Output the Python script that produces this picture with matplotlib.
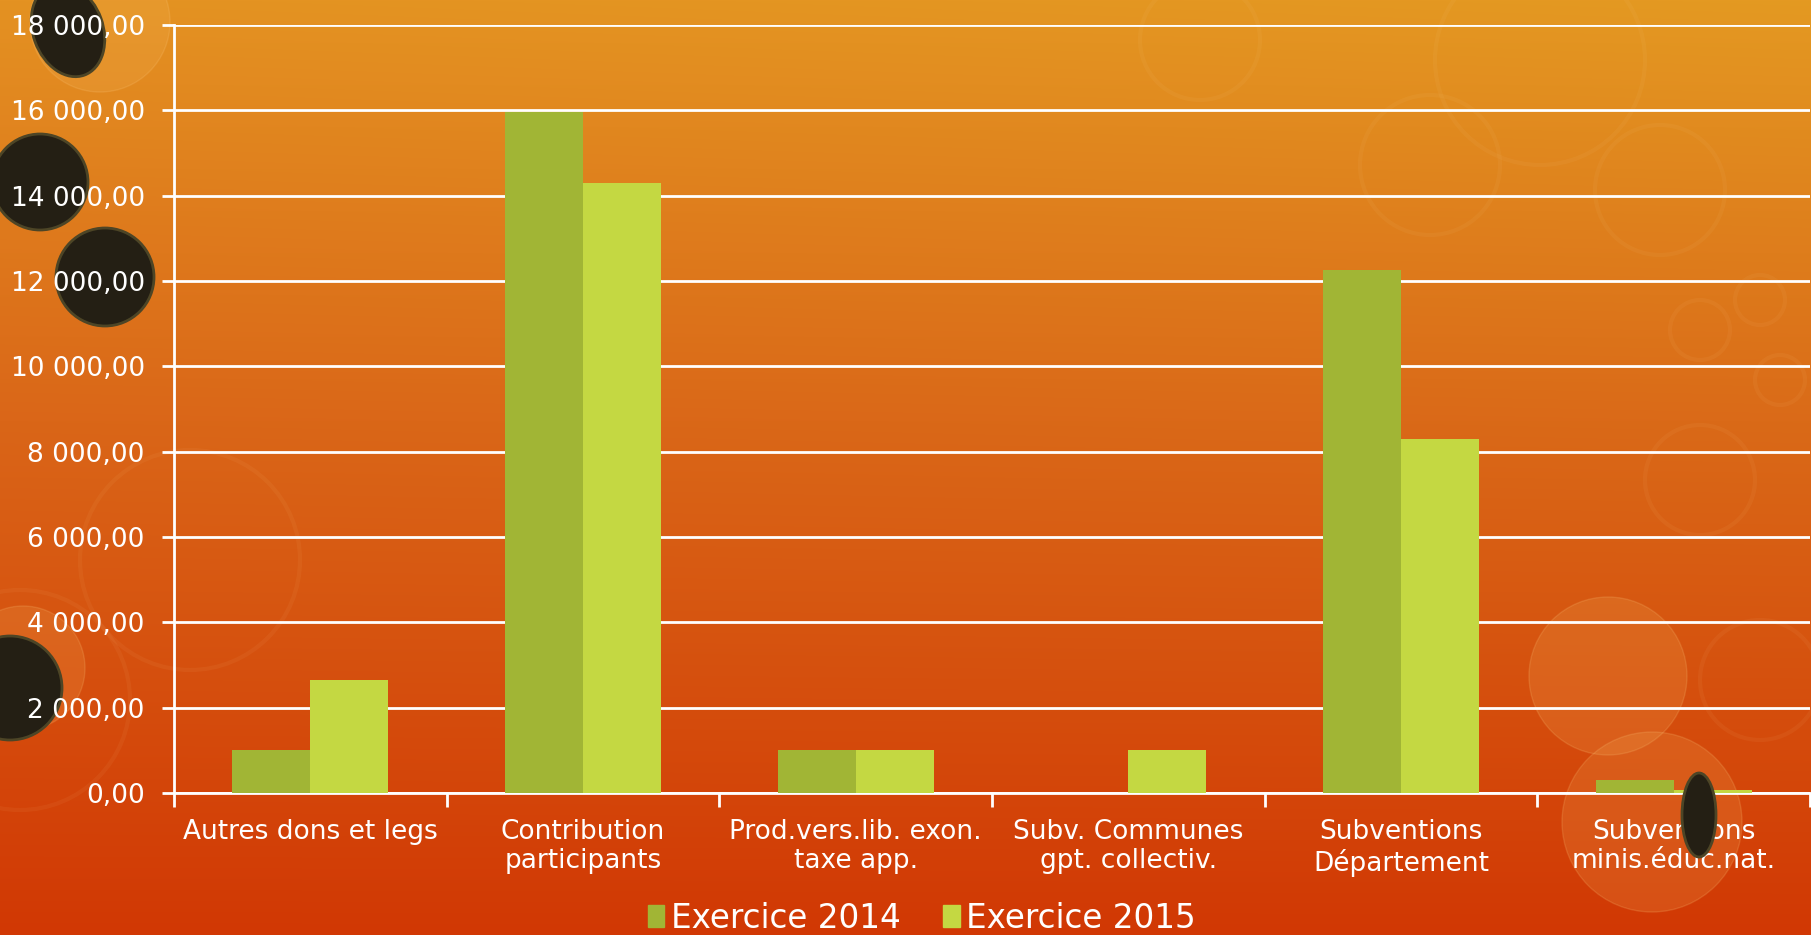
import numpy as np
import matplotlib
matplotlib.use("Agg")
import matplotlib.pyplot as plt
from matplotlib.patches import Circle, Ellipse, Patch
from matplotlib.ticker import FuncFormatter, FixedLocator

categories = ["Autres dons et legs", "Contribution\nparticipants", "Prod.vers.lib. exon.\ntaxe app.",
              "Subv. Communes\ngpt. collectiv.", "Subventions\nDépartement", "Subventions\nminis.éduc.nat."]
series_names = ["Exercice 2014", "Exercice 2015"]
values_2014 = [1000, 15950, 1000, 0, 12250, 300]
values_2015 = [2650, 14290, 1000, 1000, 8300, 60]
y_ticks = [0, 2000, 4000, 6000, 8000, 10000, 12000, 14000, 16000, 18000]

W, H = 1811, 935
fig = plt.figure(figsize=(W / 100, H / 100), dpi=100)

# background gradient
bg = fig.add_axes([0, 0, 1, 1], zorder=0)
yy = np.linspace(0, 1, H)[:, None]
xx = np.linspace(0, 1, W)[None, :]
top = np.array([228, 146, 34]) / 255
mid = np.array([218, 102, 24]) / 255
bot = np.array([209, 56, 4]) / 255
t1 = np.clip(yy / 0.45, 0, 1)
t2 = np.clip((yy - 0.45) / 0.55, 0, 1)
img = np.where((yy < 0.45)[..., None],
               top * (1 - t1[..., None]) + mid * t1[..., None],
               mid * (1 - t2[..., None]) + bot * t2[..., None])
img = img * np.ones((H, W, 1))
img[..., 1] += (0.03 * xx * (1 - yy))
img = np.clip(img, 0, 1)
bg.imshow(img, extent=(0, W, H, 0), aspect="auto")
bg.set_xlim(0, W)
bg.set_ylim(H, 0)
bg.axis("off")

# faint decorative rings
for (cx, cy, r) in [(1540, 60, 105), (1660, 190, 65), (1430, 165, 70), (1200, 40, 60),
                    (190, 560, 110), (1700, 330, 30), (1760, 300, 25), (1780, 380, 25),
                    (1700, 480, 55), (1760, 680, 60), (20, 700, 110)]:
    bg.add_patch(Circle((cx, cy), r, fill=False, ec=(1, 0.85, 0.6), lw=3, alpha=0.06))
# dotted light circles
for (cx, cy, r) in [(100, 22, 70), (23, 668, 62), (1608, 676, 79), (1652, 822, 90)]:
    bg.add_patch(Circle((cx, cy), r, fc=(0.97, 0.72, 0.38), ec=(1, 0.8, 0.5), lw=1, alpha=0.18))
# dark circles
dark = (0.14, 0.12, 0.08)
bg.add_patch(Ellipse((68, 30), 70, 96, angle=-20, fc=dark, ec=(0.3, 0.27, 0.15), lw=2))
bg.add_patch(Circle((40, 182), 48, fc=dark, ec=(0.3, 0.27, 0.15), lw=2))
bg.add_patch(Circle((105, 277), 49, fc=dark, ec=(0.3, 0.27, 0.15), lw=2))
bg.add_patch(Circle((10, 688), 52, fc=dark, ec=(0.3, 0.27, 0.15), lw=2))

# main axes
left, right, topy, boty = 174, 1810, 25, 793
ax = fig.add_axes([left / W, 1 - boty / H, (right - left) / W, (boty - topy) / H], zorder=2)
ax.patch.set_alpha(0)

c2014 = "#A1B535"
c2015 = "#C4D842"
n = len(categories)
x = np.arange(n)
bw = 0.286
ax.bar(x - bw / 2, values_2014, width=bw, color=c2014, zorder=3, label=series_names[0])
ax.bar(x + bw / 2, values_2015, width=bw, color=c2015, zorder=3, label=series_names[1])

ax.set_xlim(-0.5, n - 0.5)
ax.set_ylim(0, 18000)
ax.set_yticks(y_ticks)
ax.yaxis.set_major_formatter(FuncFormatter(lambda v, p: f"{v:,.2f}".replace(",", " ").replace(".", ",")))
ax.grid(axis="y", color="white", lw=2)
ax.set_axisbelow(True)

ax.xaxis.set_major_locator(FixedLocator(np.arange(-0.5, n, 1.0)))
ax.xaxis.set_minor_locator(FixedLocator(x))
ax.set_xticklabels([], minor=False)
ax.set_xticklabels(categories, minor=True, fontsize=19, color="white", linespacing=1.15)
ax.tick_params(axis="x", which="major", length=10, width=2, color="white", direction="out")
ax.tick_params(axis="x", which="minor", length=0, pad=19)
ax.tick_params(axis="y", length=9, width=2, color="white", labelsize=19, labelcolor="white", pad=12)

for s in ["top", "right"]:
    ax.spines[s].set_visible(False)
for s in ["left", "bottom"]:
    ax.spines[s].set_color("white")
    ax.spines[s].set_linewidth(2)

# lens decoration on top
fig_ax_top = fig.add_axes([0, 0, 1, 1], zorder=3)
fig_ax_top.set_xlim(0, W)
fig_ax_top.set_ylim(H, 0)
fig_ax_top.axis("off")
fig_ax_top.patch.set_alpha(0)
fig_ax_top.add_patch(Ellipse((1699, 815), 34, 84, fc=dark, ec=(0.3, 0.27, 0.15), lw=2))

handles = [Patch(color=c2014, label=series_names[0]), Patch(color=c2015, label=series_names[1])]
fig.legend(handles=handles, loc="center", bbox_to_anchor=(922 / W, 1 - 918 / H), ncol=2,
           frameon=False, handlelength=0.5, handleheight=0.65, handletextpad=0.2,
           columnspacing=1.3, labelcolor="white",
           prop={"family": "DejaVu Sans", "size": 23.5})

fig.savefig("out.png", dpi=100)
